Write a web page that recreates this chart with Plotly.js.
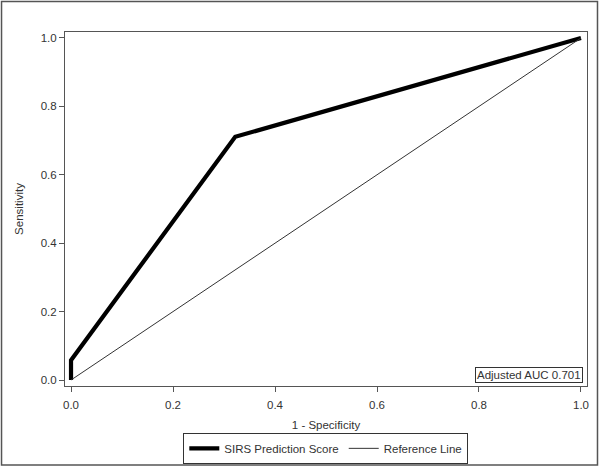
<!DOCTYPE html>
<html>
<head>
<meta charset="utf-8">
<script src="https://cdn.plot.ly/plotly-3.0.1.min.js"></script>
<style>html,body{margin:0;padding:0;background:#fff;}#chart{width:600px;height:468px;}</style>
</head>
<body>
<div id="chart"></div>
<script>
// ROC curve points (1 - Specificity, Sensitivity)
const rocFpr = [0, 0, 0.322, 1];
const rocTpr = [0, 0.058, 0.711, 1];
// Reference diagonal
const refX = [0, 1];
const refY = [0, 1];
const tickVals = [0, 0.2, 0.4, 0.6, 0.8, 1.0];
const tickText = ["0.0", "0.2", "0.4", "0.6", "0.8", "1.0"];
const seriesNames = ["SIRS Prediction Score", "Reference Line"];
const aucLabel = "Adjusted AUC 0.701";

const font = {family: "Arial, 'Liberation Sans', sans-serif", size: 11.5, color: "#333"};

const traces = [
  {x: rocFpr, y: rocTpr, mode: "lines", name: seriesNames[0],
   line: {color: "#000", width: 4.2}},
  {x: refX, y: refY, mode: "lines", name: seriesNames[1],
   line: {color: "#333", width: 1}}
];

const layout = {
  width: 600, height: 468,
  margin: {l: 65, r: 13, t: 32, b: 82, autoexpand: false},
  paper_bgcolor: "#fff", plot_bgcolor: "#fff",
  font: font,
  showlegend: true,
  legend: {orientation: "h", xref: "container", yref: "container",
    x: 0.543, xanchor: "center", y: 0.042, yanchor: "middle",
    bordercolor: "#333", borderwidth: 1, font: font, tracegroupgap: 0,
    itemwidth: 30},
  xaxis: {range: [-0.0118, 1.0118], tickvals: tickVals, ticktext: tickText,
    ticks: "outside", ticklen: 5, tickcolor: "#555", showgrid: false, zeroline: false,
    showline: true, mirror: true, linecolor: "#555", linewidth: 1, ticklabelstandoff: 3,
    title: {text: "1 - Specificity", font: font, standoff: 11}, tickfont: font},
  yaxis: {range: [-0.0175, 1.0175], tickvals: tickVals, ticktext: tickText,
    ticks: "outside", ticklen: 5, tickcolor: "#555", showgrid: false, zeroline: false,
    showline: true, mirror: true, linecolor: "#555", linewidth: 1,
    title: {text: "Sensitivity", font: font, standoff: 14}, tickfont: font},
  annotations: [{
    text: aucLabel, xref: "paper", yref: "paper", x: 0.992, y: 0.0085,
    xanchor: "right", yanchor: "bottom", showarrow: false, font: font,
    bordercolor: "#333", borderwidth: 1, borderpad: 1, bgcolor: "#fff"
  }],
  shapes: [{
    type: "rect", xref: "paper", yref: "paper",
    x0: -0.1216, x1: 1.0201, y0: -0.2232, y1: 1.0862,
    line: {color: "#555", width: 1.5}, layer: "below"
  }]
};

Plotly.newPlot("chart", traces, layout, {displayModeBar: false, staticPlot: true});
</script>
</body>
</html>
